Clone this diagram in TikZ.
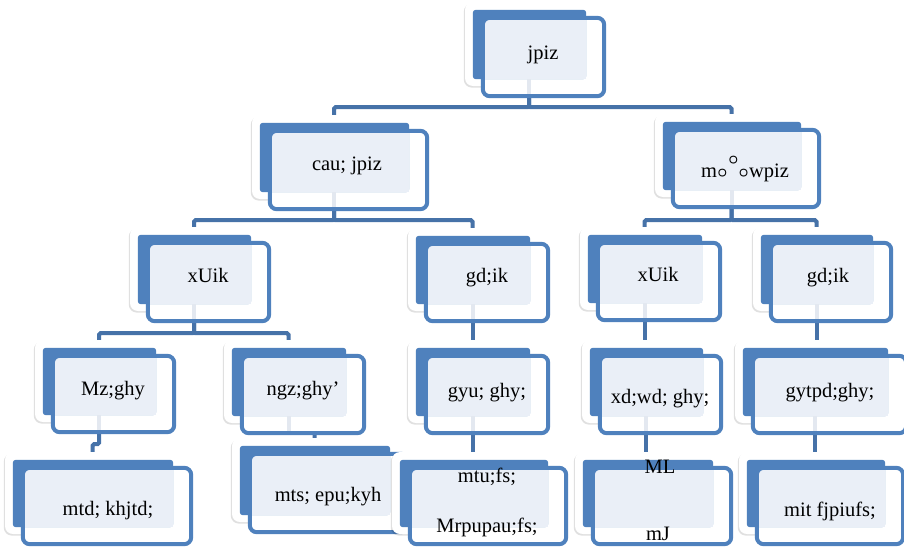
\documentclass[tikz,border=0pt]{standalone}
\usepackage{fontspec}
\setmainfont{Liberation Serif}
\usepackage{graphicx}
\usetikzlibrary{calc,fit,shadows}
\definecolor{bblue}{HTML}{4F81BD}
\definecolor{lfill}{HTML}{EAEFF7}
\definecolor{cline}{HTML}{4672A8}
\definecolor{faint}{HTML}{E3E8F0}
\pgfdeclarelayer{bg}
\pgfsetlayers{bg,main}
\tikzset{
  wbox/.style={fill=white, rounded corners=8pt, inner sep=0pt,
    drop shadow={shadow xshift=-1.2pt, shadow yshift=-1.6pt, opacity=0.12, fill=black}},
  bfill/.style={fill=bblue, rounded corners=3pt},
  lbox/.style={fill=lfill},
  obox/.style={draw=bblue, line width=4pt, rounded corners=7pt},
  conn/.style={draw=cline, line width=4pt, rounded corners=1.5pt},
  stemline/.style={draw=faint, line width=4pt},
  txt/.style={font=\fontsize{20.5}{24}\selectfont, inner sep=0pt, anchor=base, text=black},
}
\newcommand\smbox[5]{%
  \node[wbox, fit={(#2,#3)(#4,#5)}] (#1) {};
  \fill[white, rounded corners=7pt] ($(#1.north west)+(18,16)$) rectangle ($(#1.south east)+(11,10)$);
  \fill[bfill] ($(#1.north west)+(8,8)$) rectangle ($(#1.south east)+(-7,-7)$);
  \begin{scope}
    \clip[rounded corners=7pt] ($(#1.north west)+(18,16)$) rectangle ($(#1.south east)+(11,10)$);
    \fill[lbox] ($(#1.north west)+(8,8)$) rectangle ($(#1.south east)+(-7,-7)$);
  \end{scope}
  \draw[obox] ($(#1.north west)+(18,16)$) rectangle ($(#1.south east)+(11,10)$);
}
\newcommand\ring{\scalebox{0.85}{\boldmath$\circ$}}
\begin{document}
\begin{tikzpicture}[x=1pt,y=-1pt]
\useasboundingbox (0,0) rectangle (904,546);
% boxes
\smbox{n1}{465}{2}{593}{86}
\smbox{n2}{252}{115}{416}{199}
\smbox{n3}{655}{114}{808}{197}
\smbox{n4}{130}{227}{258}{311}
\smbox{n5}{408}{228}{537}{311}
\smbox{n6}{580}{227}{709}{310}
\smbox{n7}{753}{227}{880}{311}
\smbox{n8}{35}{340}{163}{422}
\smbox{n9}{224}{340}{353}{423}
\smbox{n10}{408}{340}{537}{423}
\smbox{n11}{582}{340}{710}{423}
\smbox{n12}{735}{340}{895}{423}
\smbox{n13}{5}{452}{180}{534}
\smbox{n14}{232}{438}{397}{522}
\smbox{n15}{392}{452}{555}{534}
\smbox{n16}{575}{452}{720}{534}
\smbox{n17}{739}{452}{892}{534}
% faint stems inside parents
\foreach \p in {n1,n2,n3,n4,n5,n6,n7,n8,n9,n10,n11,n12}
  \draw[stemline] ($(\p.south)+(0,-7)$) -- ($(\p.south)+(0,8)$);
% connectors
\begin{pgfonlayer}{bg}
\draw[conn] (n1.south) -- ++(0,21) -| (n2.north);
\draw[conn] (n1.south) -- ++(0,21) -| (n3.north);
\draw[conn] (n2.south) -- ++(0,21) -| (n4.north);
\draw[conn] (n2.south) -- ++(0,21) -| (n5.north);
\draw[conn] (n3.south) -- ++(0,23) -| (n6.north);
\draw[conn] (n3.south) -- ++(0,23) -| (n7.north);
\draw[conn] (n4.south) -- ++(0,22) -| (n8.north);
\draw[conn] (n4.south) -- ++(0,22) -| (n9.north);
\draw[conn] (n5.south) -- (n5.south |- n10.north);
\draw[conn] (n6.south) -- (n6.south |- n11.north);
\draw[conn] (n7.south) -- (n7.south |- n12.north);
\draw[conn] (n8.south) -- ++(0,22) -| (n13.north);
\draw[conn] (n9.south) -- ++(0,6) -| (n14.north);
\draw[conn] (n10.south) -- (n10.south |- n15.north);
\draw[conn] (n11.south) -- (n11.south |- n16.north);
\draw[conn] (n12.south) -- (n12.south |- n17.north);
\end{pgfonlayer}
% texts
\node[txt] (t1) at (543,59) {jpiz};
\node[txt] (t2) at (347,170) {cau; jpiz};
\node[txt] (t3) at (745,177) {m\kern0.3pt\ring\kern1pt\raisebox{13pt}{\ring}\kern0pt\ring\kern0.3pt wpiz};
\node[txt] (t4) at (208,282) {xUik};
\node[txt] (t5) at (487,282) {gd;ik};
\node[txt] (t6) at (658,281) {xUik};
\node[txt] (t7) at (828,282) {gd;ik};
\node[txt] (t8) at (113,395) {Mz;ghy};
\node[txt] (t9) at (303,395) {ngz;ghy’};
\node[txt] (t10) at (487,397) {gyu; ghy;};
\node[txt] (t11) at (660,403) {xd;wd; ghy;};
\node[txt] (t12) at (830,397) {gytpd;ghy;};
\node[txt] (t13) at (108,515) {mtd; khjtd;};
\node[txt] (t14) at (328,501) {mts; epu;kyh};
\node[txt] (t15a) at (487,482) {mtu;fs;};
\node[txt] (t15b) at (487,532) {Mrpupau;fs;};
\node[txt] (t16a) at (660,473) {ML};
\node[txt] (t16b) at (658,540) {mJ};
\node[txt] (t17) at (830,516) {mit fjpiufs;};
\end{tikzpicture}
\end{document}
